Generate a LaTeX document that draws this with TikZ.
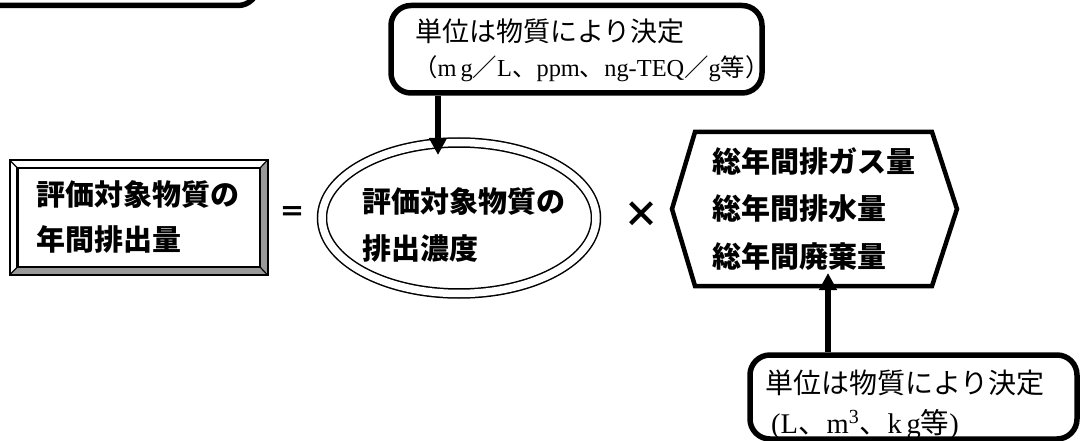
\documentclass[tikz,border=0pt]{standalone}
\usepackage{fontspec}
\setmainfont{Liberation Serif}
\newfontfamily\jp{Noto Sans CJK JP}
\usetikzlibrary{arrows.meta,shapes.geometric}
\tikzset{
  bigtxt/.style={anchor=base west, inner sep=0pt, font=\jp\bfseries\fontsize{29pt}{35pt}\selectfont},
  notetxt/.style={anchor=base west, inner sep=0pt, font=\jp\fontsize{27pt}{32pt}\selectfont},
  unittxt/.style={anchor=base west, inner sep=0pt, font=\rmfamily\fontsize{#1}{30pt}\selectfont},
  callout/.style={draw, line width=5.5pt, rounded corners=20pt, inner sep=0pt},
  arr/.style={line width=5.5pt, -{Triangle[width=17pt,length=17pt]}},
  bevelgrey/.style={fill=black!40},
}
\begin{document}
\begin{tikzpicture}[x=1pt,y=-1pt]
\useasboundingbox (0,0) rectangle (1080,441);
\clip (0,0) rectangle (1080,441);

% fragment of a box above the picture
\node[callout, minimum width=278pt, minimum height=120pt] (prev) at (119,-54.5) {};

% callout boxes
\node[callout, minimum width=371pt, minimum height=87.5pt] (topbox) at (576.5,49.25) {};
\node[callout, minimum width=327pt, minimum height=84pt] (botbox) at (913.5,397) {};

\node[notetxt] (T1) at (415,42) {単位は物質により決定};
\node[unittxt=24.4pt] (T2) at (413,77) {{\jp （}m\,g{\jp ／}L{\jp 、}ppm{\jp 、}ng-TEQ{\jp ／}g{\jp 等）}};
\node[notetxt, font=\jp\fontsize{28pt}{32pt}\selectfont] (B1) at (765,393.5) {単位は物質により決定};
\node[unittxt=28.5pt] (B2) at (771,433) {(L{\jp 、}m\textsuperscript{3}{\jp 、}k\,g{\jp 等})};

% bevelled box (left)
\coordinate (oNW) at (9.5,160);
\coordinate (oSE) at (267.5,275);
\coordinate (iNW) at (17.5,168);
\coordinate (iSE) at (260,267);
\fill[bevelgrey] (oNW -| oSE) -- (oSE) -- (oNW |- oSE) -- (iNW |- iSE) -- (iSE) -- (iNW -| iSE) -- cycle;
\draw[line width=2pt] (oNW) rectangle (oSE);
\draw[line width=2.5pt] (iNW) rectangle (iSE);
\draw[line width=1.2pt] (oNW) -- (iNW) (oNW -| oSE) -- (iNW -| iSE) (oSE) -- (iSE) (oNW |- oSE) -- (iNW |- iSE);
\node[bigtxt] (L1) at (36,206) {評価対象物質の};
\node[bigtxt] (L2) at (36,251) {年間排出量};

% equals
\node[inner sep=0pt, font=\jp\bfseries\fontsize{26pt}{30pt}\selectfont] (eq) at (292,214) {＝};

% double ellipse
\node[ellipse, draw, double, line width=1.5pt, double distance=7.5pt,
      minimum width=274pt, minimum height=151pt, inner sep=0pt] (ell) at (459,218) {};
\node[bigtxt] (E1) at (362,213) {評価対象物質の};
\node[bigtxt] (E2) at (362,259) {排出濃度};

% times
\node[inner sep=0pt, font=\jp\bfseries\fontsize{36pt}{40pt}\selectfont] (times) at (641,215) {×};

% hexagon
\draw[line width=4.5pt, line join=miter]
  (695,132) coordinate (h1) -- (932,132) coordinate (h2) -- (957,209) coordinate (h3)
  -- (932,286) coordinate (h4) -- (695,286) coordinate (h5) -- (672,209) coordinate (h6) -- cycle;
\node[bigtxt] (H1) at (712,173) {総年間排ガス量};
\node[bigtxt] (H2) at (712,220) {総年間排水量};
\node[bigtxt] (H3) at (712,267) {総年間廃棄量};

% arrows
\coordinate (tipA) at (438,155);
\coordinate (tipB) at (828,273);
\draw[arr] (topbox.south -| tipA) -- (tipA);
\draw[arr] (botbox.north -| tipB) -- (tipB);
\end{tikzpicture}
\end{document}
